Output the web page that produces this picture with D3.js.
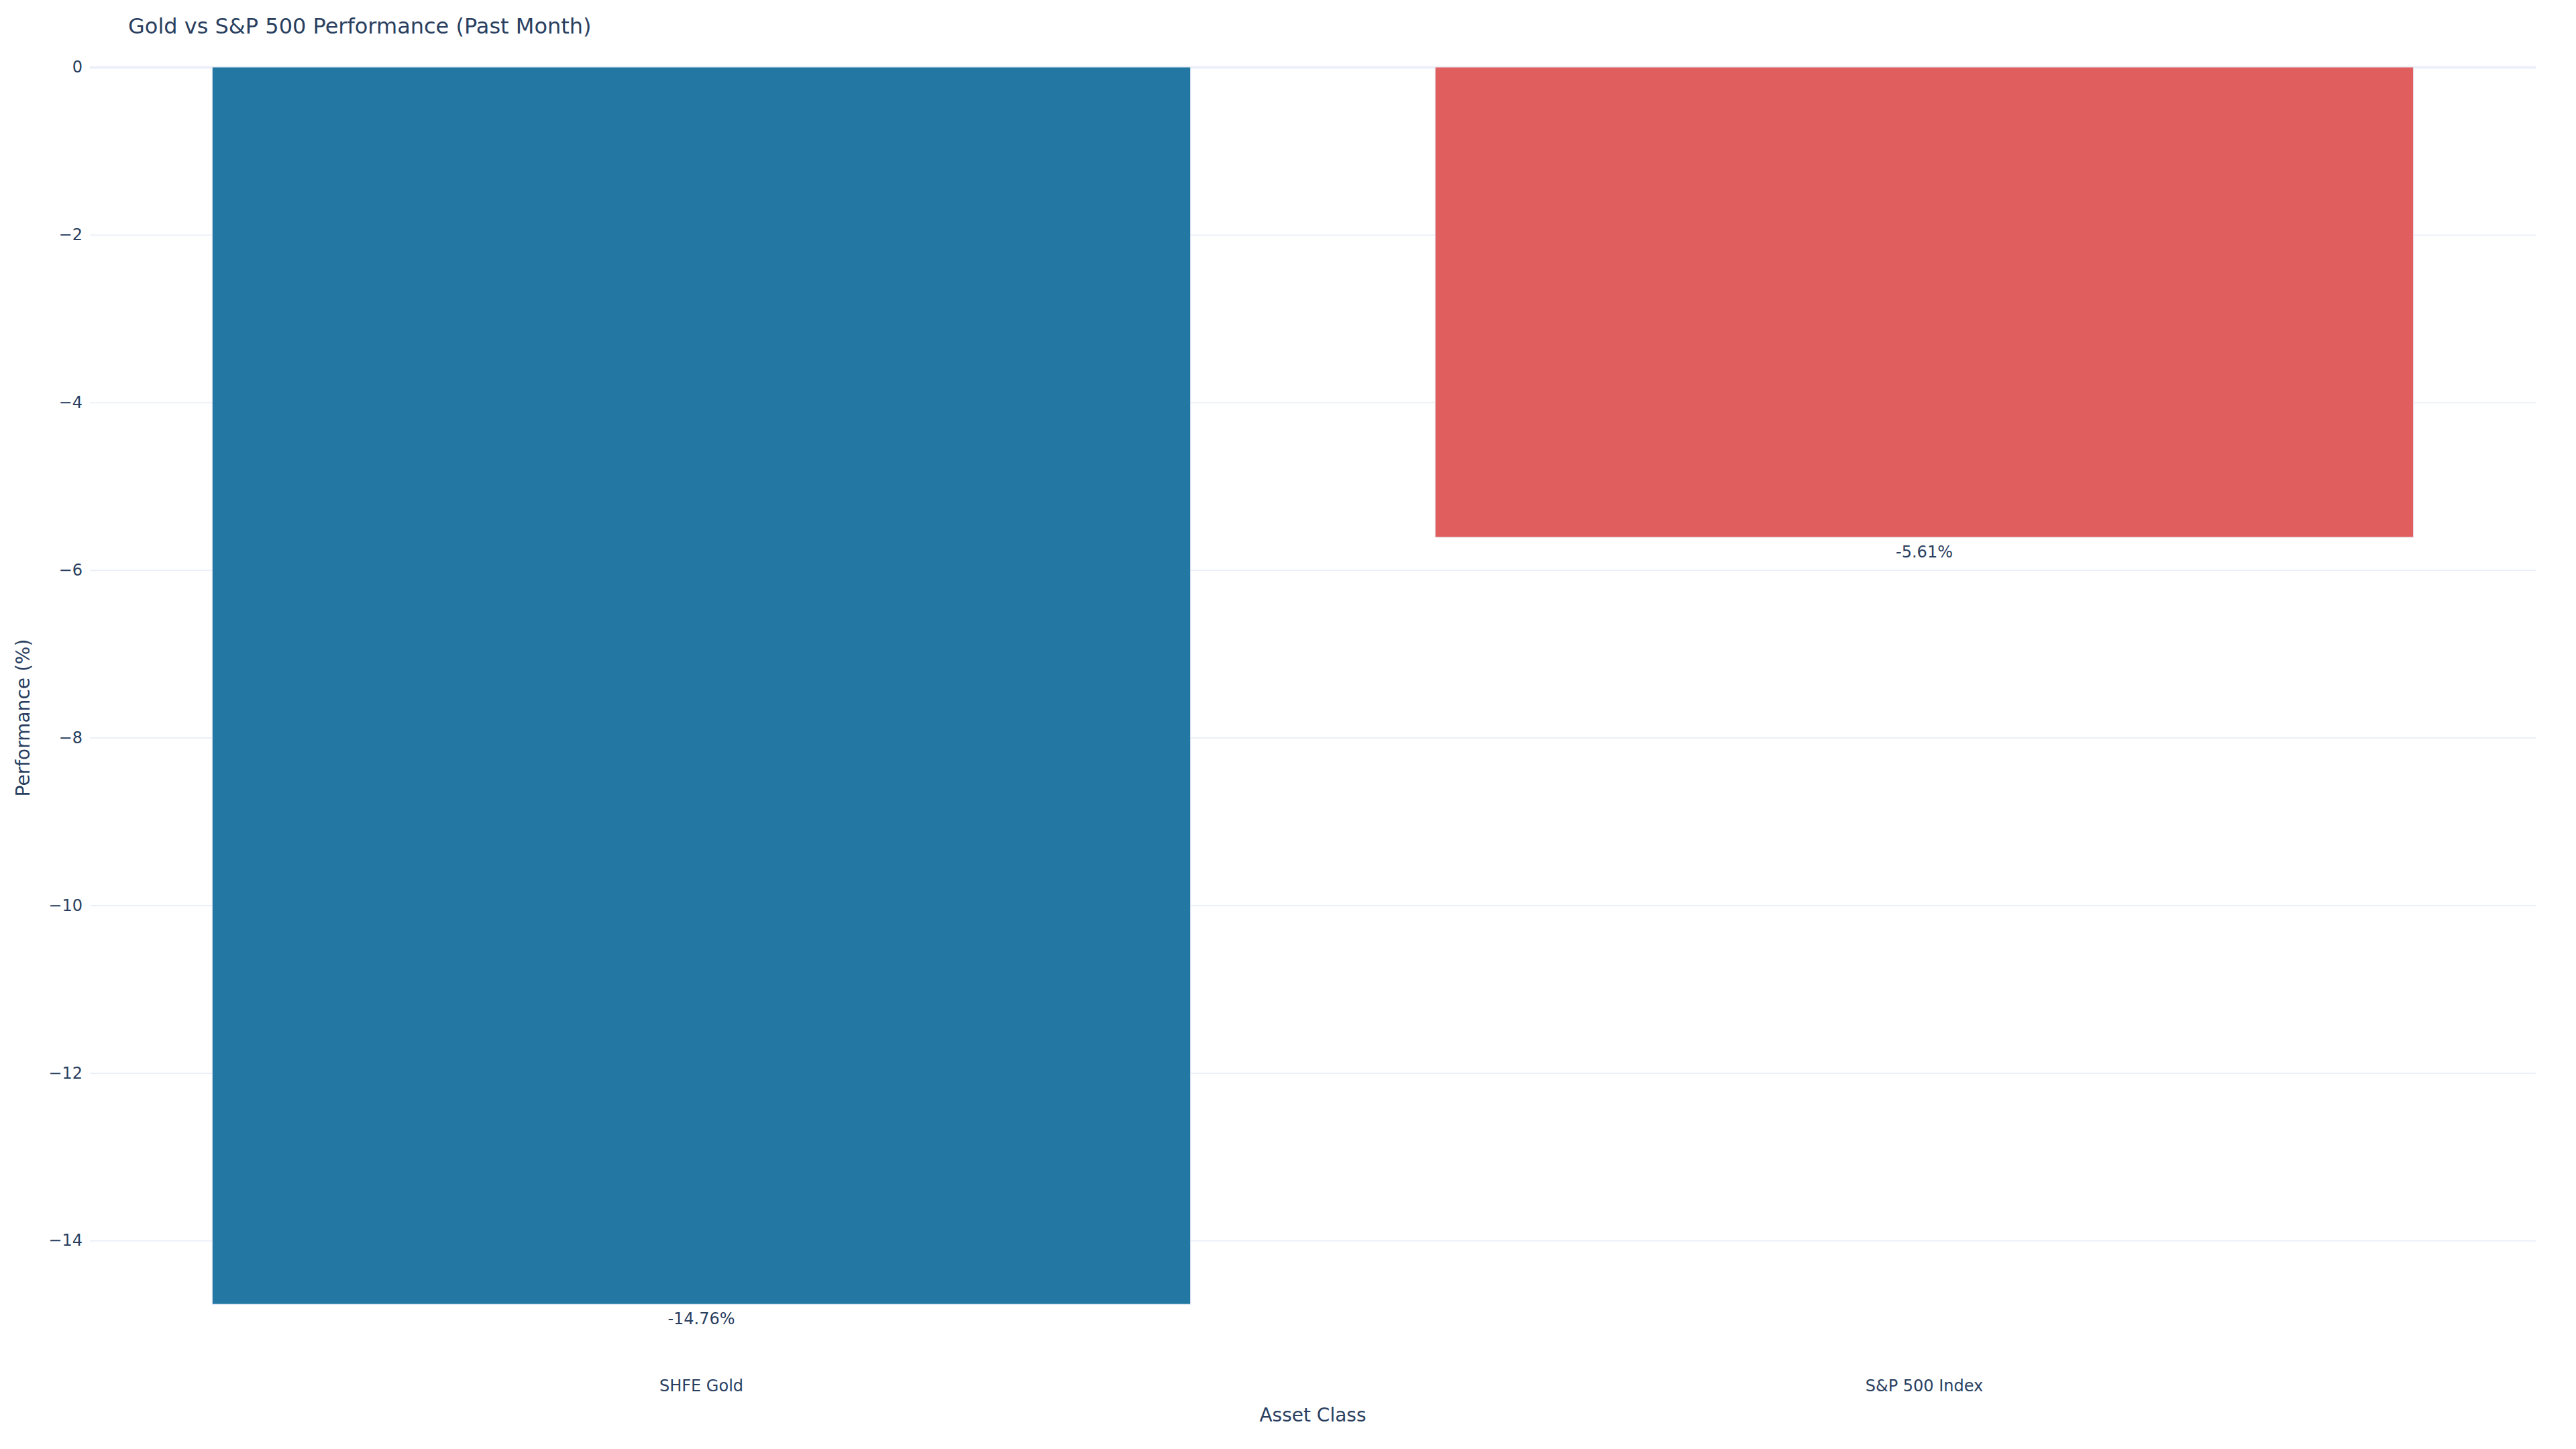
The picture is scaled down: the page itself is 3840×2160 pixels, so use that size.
<!DOCTYPE html>
<html>
<head>
<meta charset="utf-8">
<script src="https://cdn.jsdelivr.net/npm/d3@7"></script>
<style>
  html, body { margin: 0; padding: 0; background: #fff; }
  svg { display: block; font-family: "DejaVu Sans", Verdana, sans-serif; }
</style>
</head>
<body>
<script>
const categories = ["SHFE Gold", "S&P 500 Index"];
const performance = [-14.76, -5.61];
const barColors = ["#2377a3", "#e05f5e"];
const yTickValues = [0, -2, -4, -6, -8, -10, -12, -14];
const chartTitle = "Gold vs S&P 500 Performance (Past Month)";
const xTitle = "Asset Class";
const yTitle = "Performance (%)";

const W = 3840, H = 2160;
const plot = { left: 134, right: 3780, top: 100, bottom: 2042 };
const textColor = "#2a3f5f";
const gridColor = "#EBF0F8";

const svg = d3.select("body").append("svg").attr("width", W).attr("height", H);
svg.append("rect").attr("width", W).attr("height", H).attr("fill", "#fff");

const x = d3.scaleBand().domain(categories).range([plot.left, plot.right])
  .paddingInner(0.2).paddingOuter(0.1);
const y = d3.scaleLinear().domain([d3.min(performance) * 1.053, 0]).range([plot.bottom, plot.top]);

// gridlines
const yAxis = d3.axisLeft(y).tickValues(yTickValues).tickSize(-(plot.right - plot.left)).tickPadding(11)
  .tickFormat(d3.format("d"));
const gy = svg.append("g").attr("transform", `translate(${plot.left},0)`).call(yAxis);
gy.select(".domain").remove();
gy.selectAll(".tick line").attr("stroke", gridColor).attr("stroke-width", d => d === 0 ? 4 : 2);
gy.selectAll(".tick text").attr("fill", textColor).attr("font-size", 24)
  .attr("font-family", "DejaVu Sans, Verdana, sans-serif").attr("x", -11);

// bars
const data = categories.map((c, i) => ({ c, v: performance[i], color: barColors[i] }));
svg.append("g").selectAll("rect").data(data).join("rect")
  .attr("x", d => x(d.c))
  .attr("width", x.bandwidth())
  .attr("y", d => y(Math.max(0, d.v)))
  .attr("height", d => Math.abs(y(d.v) - y(0)))
  .attr("fill", d => d.color)
  .attr("stroke", "#E5ECF6").attr("stroke-width", 1);

// value labels
svg.append("g").selectAll("text").data(data).join("text")
  .attr("x", d => x(d.c) + x.bandwidth() / 2)
  .attr("y", d => y(d.v) + 30)
  .attr("text-anchor", "middle")
  .attr("font-size", 24).attr("fill", textColor)
  .text(d => d.v.toFixed(2) + "%");

// x axis labels
const xAxis = d3.axisBottom(x).tickSize(0).tickPadding(0);
const gx = svg.append("g").attr("transform", `translate(0,${plot.bottom})`).call(xAxis);
gx.select(".domain").remove();
gx.selectAll(".tick text").attr("fill", textColor).attr("font-size", 24)
  .attr("font-family", "DejaVu Sans, Verdana, sans-serif")
  .attr("dy", null).attr("y", 32);

// titles
svg.append("text").attr("x", 191).attr("y", 50).attr("font-size", 32).attr("fill", textColor)
  .text(chartTitle);
svg.append("text").attr("x", (plot.left + plot.right) / 2).attr("y", 2119)
  .attr("text-anchor", "middle").attr("font-size", 28).attr("fill", textColor).text(xTitle);
svg.append("text").attr("transform", `translate(44,1070) rotate(-90)`)
  .attr("text-anchor", "middle").attr("font-size", 28).attr("fill", textColor).text(yTitle);
</script>
</body>
</html>
